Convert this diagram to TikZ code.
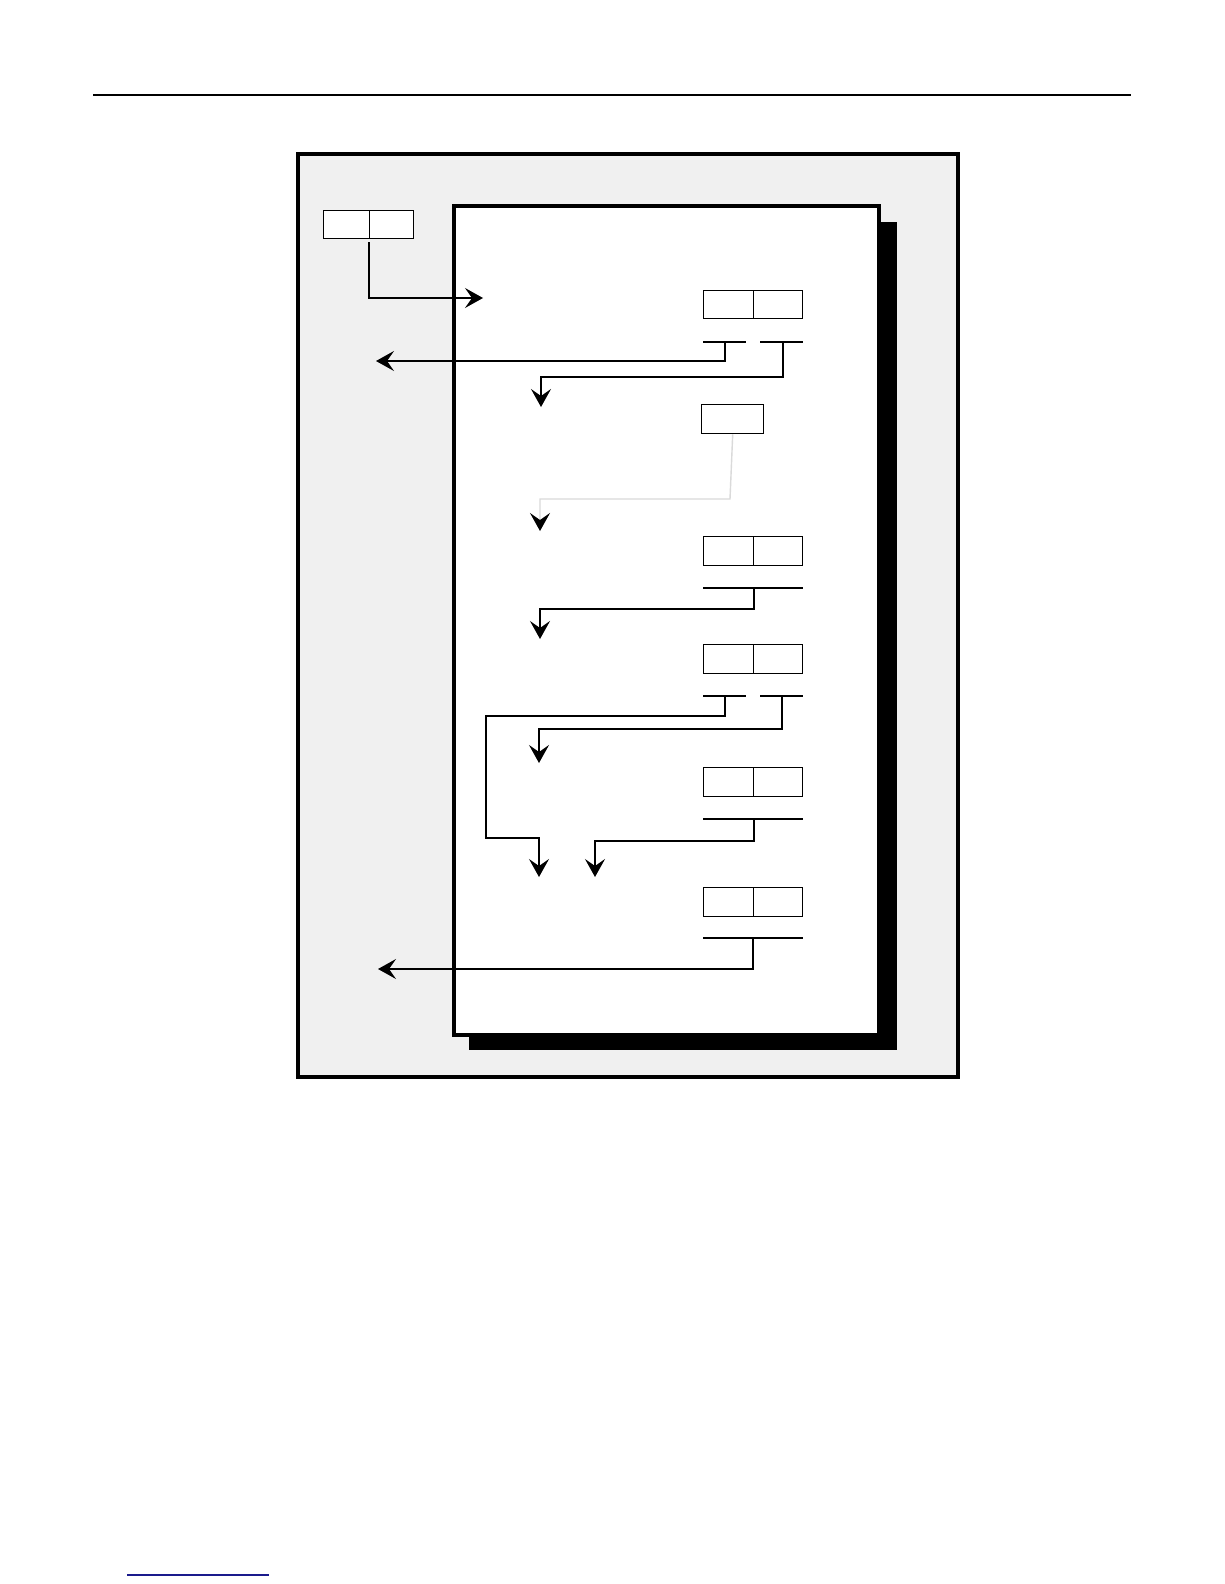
\documentclass[tikz,border=0pt]{standalone}
\usetikzlibrary{arrows.meta}
\definecolor{panel}{RGB}{240,240,240}
\definecolor{navy}{RGB}{26,26,140}
\definecolor{faint}{RGB}{218,218,218}
\tikzset{
  cell/.style={draw=black, line width=1.4pt, fill=white, inner sep=0pt, anchor=north west, minimum height=28pt},
  wide/.style={cell, minimum width=50pt},
  bar/.style={draw=black, line width=1.4pt},
  link/.style={draw=black, line width=1.4pt, -{Stealth[length=18pt,width=20pt,inset=7pt]}},
  glink/.style={draw=faint, line width=1.4pt, -{Stealth[length=18pt,width=20pt,inset=7pt,color=black]}},
  frame/.style={draw=black, line width=4pt},
}
\begin{document}
\begin{tikzpicture}[x=1pt,y=-1pt]
\useasboundingbox (0,0) rectangle (1224,1584);
% page rules
\draw[line width=2pt] (93,95) -- (1131,95);
\draw[navy, line width=1.6pt] (127,1575) -- (269,1575);
% outer panel
\draw[frame, fill=panel] (298,154) rectangle (958,1077);
% shadow and inner box
\fill[black] (469,222) rectangle (897,1050);
\draw[frame, fill=white] (454,206) rectangle (879,1035);

% top-left box
\node[cell, minimum width=46pt] (tla) at (323,210) {};
\node[cell, minimum width=44pt] (tlb) at (369,210) {};
% box A
\node[wide] (aa) at (703,290) {};
\node[cell, minimum width=49pt] (ab) at (753,290) {};
% box B (single)
\node[cell, minimum width=62pt, minimum height=29pt] (bb) at (701,404) {};
% box C
\node[wide, minimum height=29pt] (ca) at (703,536) {};
\node[cell, minimum width=49pt, minimum height=29pt] (cb) at (753,536) {};
% box D
\node[wide, minimum height=29pt] (da) at (703,644) {};
\node[cell, minimum width=49pt, minimum height=29pt] (db) at (753,644) {};
% box E
\node[wide, minimum height=29pt] (ea) at (703,767) {};
\node[cell, minimum width=49pt, minimum height=29pt] (eb) at (753,767) {};
% box F
\node[wide, minimum height=29pt] (fa) at (703,887) {};
\node[cell, minimum width=49pt, minimum height=29pt] (fb) at (753,887) {};

% bars
\draw[bar] (703,342) -- (746,342);
\draw[bar] (760,342) -- (803,342);
\draw[bar] (703,588) -- (803,588);
\draw[bar] (703,696) -- (746,696);
\draw[bar] (760,696) -- (803,696);
\draw[bar] (703,819) -- (803,819);
\draw[bar] (703,938) -- (803,938);

% connector points
\coordinate (s1) at (369,242);
\coordinate (t1) at (483,298);
\coordinate (s2) at (725,342);
\coordinate (t2) at (376,361);
\coordinate (s3) at (783,342);
\coordinate (t3) at (541,407);
\coordinate (t4) at (540,531);
\coordinate (s5) at (754,588);
\coordinate (t5) at (540,639);
\coordinate (s6) at (725,696);
\coordinate (t6) at (539,877);
\coordinate (s7) at (782,696);
\coordinate (t7) at (539,763);
\coordinate (s8) at (754,819);
\coordinate (t8) at (595,877);
\coordinate (s9) at (753,938);
\coordinate (t9) at (378,969);

% connectors
\draw[link] (s1) |- (t1);
\draw[link] (s2) -- (725,361) -- (t2);
\draw[link] (s3) -- (783,377) -| (t3);
\draw[glink] (bb.south) -- (730,499) -| (t4);
\draw[link] (s5) -- (754,609) -| (t5);
\draw[link] (s6) -- (725,716) -- (486,716) -- (486,838) -| (t6);
\draw[link] (s7) -- (782,729) -| (t7);
\draw[link] (s8) -- (754,841) -| (t8);
\draw[link] (s9) -- (753,969) -- (t9);
\end{tikzpicture}
\end{document}
